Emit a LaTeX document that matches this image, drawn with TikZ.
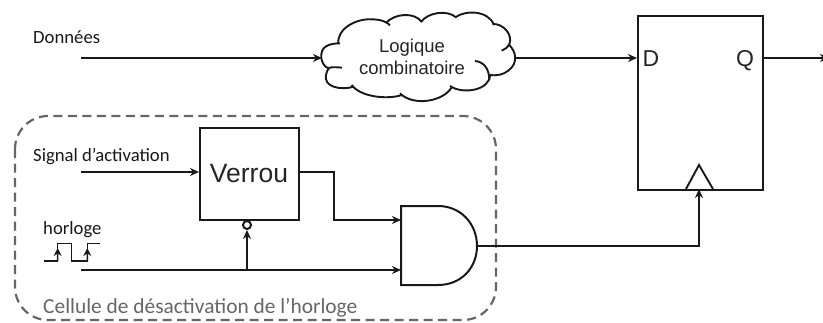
\documentclass[tikz,border=0pt]{standalone}
\usepackage{fontspec}
\setmainfont{Carlito}
\newfontfamily\arialf{Liberation Sans}
\usetikzlibrary{arrows.meta,calc}
\tikzset{
  wire/.style={line width=1.9pt,draw=black!90},
  awire/.style={wire,-{Stealth[length=9pt,width=8pt]}},
  boxst/.style={draw=black!90,line width=2pt,fill=white,inner sep=0pt,anchor=north west},
  lab/.style={inner sep=0pt,text=black!90},
  alab/.style={inner sep=0pt,text=black!85,font=\arialf,align=center},
  dashbox/.style={draw=black!60,line width=2.2pt,dash pattern=on 9pt off 5.5pt,rounded corners=33pt},
  coordst/.style={inner sep=0pt,minimum size=0pt}
}
\begin{document}
\begin{tikzpicture}[x=1pt,y=-1pt]
\useasboundingbox (0,0) rectangle (823,322);
% flip-flop
\node[boxst,minimum width=125pt,minimum height=174pt] (ff) at (637,15) {};
\coordinate (ffD) at (637,58);
\coordinate (ffQ) at (762,58);
\coordinate (ffCk) at (699,189);
\coordinate (tL) at (686,189);
\coordinate (tR) at (713,189);
\coordinate (tT) at (699,165);
\draw[wire] (tL) -- (tT) -- (tR);
\node[alab,anchor=base,font=\arialf\fontsize{23}{23}\selectfont] (dlab) at (651,66) {D};
\node[alab,anchor=base,font=\arialf\fontsize{23}{23}\selectfont] (qlab) at (745,66) {Q};
\coordinate (outEnd) at (829,58);
% cloud
\begin{scope}[shift={(300,0)},x=0.3333pt,y=-0.3333pt,line width=1.9pt,draw=black!90]
\fill[white] (65,172) -- (120,100) -- (300,50) -- (530,40) -- (640,120) -- (640,200) -- (550,270) -- (380,310) -- (170,270) -- (85,240) -- cycle;
\draw (85,205) .. controls (60,195) and (55,150) .. (80,138) .. controls (90,132) and (105,130) .. (120,130);
\draw (115,132) .. controls (110,85) and (170,55) .. (215,58) .. controls (240,58) and (262,65) .. (270,76);
\draw (258,70) .. controls (280,40) and (345,35) .. (365,66);
\draw (363,66) .. controls (385,35) and (445,30) .. (468,52);
\draw (466,52) .. controls (495,30) and (565,30) .. (582,75);
\draw (578,72) .. controls (610,70) and (640,105) .. (628,133) .. controls (622,143) and (615,148) .. (605,152);
\draw (625,132) .. controls (650,155) and (655,190) .. (625,212) .. controls (610,224) and (590,228) .. (568,225);
\draw (525,183) .. controls (550,185) and (568,205) .. (568,240);
\draw (570,225) .. controls (570,270) and (490,285) .. (450,258);
\draw (455,262) .. controls (430,305) and (340,320) .. (300,280);
\draw (306,285) .. controls (260,300) and (180,290) .. (155,255);
\draw (162,260) .. controls (120,272) and (70,260) .. (78,225) .. controls (80,215) and (82,210) .. (87,205);
\draw (85,204) .. controls (100,200) and (112,202) .. (126,203);
\end{scope}
\node[alab,font=\arialf\fontsize{18.5}{22}\selectfont] (cloud) at (412,57) {Logique\\combinatoire};
\coordinate (cloudIn) at (322,58);
\coordinate (cloudOut) at (516,58);
% dashed frame
\node[coordst] (fa) at (15,116) {};
\node[coordst] (fb) at (496,320) {};
\draw[dashbox] (fa) rectangle (fb);
% latch
\node[boxst,minimum width=99pt,minimum height=92pt] (latch) at (199,127) {};
\node[alab,anchor=base,font=\arialf\fontsize{26.5}{26.5}\selectfont] (vlab) at (249,182) {Verrou};
\node[draw=black!90,line width=2pt,circle,fill=white,minimum size=8pt,inner sep=0pt] (bub) at (247,225) {};
% AND
\coordinate (gA) at (401,206);
\coordinate (gOut) at (477,246);
\coordinate (gI1) at (401,220);
\coordinate (gI2) at (401,270);
\draw[wire,line width=2pt,fill=white] (401,206) -- (438,206) .. controls (461,206) and (477,224) .. (477,246) .. controls (477,268) and (461,285) .. (438,285) -- (401,285) -- cycle;
% inputs
\coordinate (dIn) at (81,58);
\coordinate (sIn) at (81,172);
\coordinate (ckIn) at (81,270);
\coordinate (latchIn) at (199,172);
\coordinate (latchOut) at (298,172);
\coordinate (tap) at (247,270);
\coordinate (elb) at (699,246);
% wires
\draw[awire] (dIn) -- (cloudIn);
\draw[awire] (cloudOut) -- (ffD);
\draw[awire] (ffQ) -- (outEnd);
\draw[awire] (sIn) -- (latchIn);
\draw[awire] (latchOut) -- (334,172) -- (334,220) -- (gI1);
\draw[awire] (ckIn) -- (gI2);
\draw[awire] (tap) -- (bub);
\draw[awire] (gOut) -- (elb) -- (ffCk);
% clock symbol
\coordinate (c0) at (44,261);
\coordinate (c1) at (57.7,261);
\coordinate (c2) at (57.7,243.7);
\coordinate (c3) at (71.7,243.7);
\coordinate (c4) at (71.7,261);
\coordinate (c5) at (87.3,261);
\coordinate (c6) at (87.3,243.7);
\coordinate (c7) at (100,243.7);
\draw[wire,line width=1.5pt] (c0) -- (c1) -- (c2) -- (c3) -- (c4) -- (c5) -- (c6) -- (c7);
\draw[wire,line width=1.5pt,-{Stealth[length=8pt,width=8pt]}] (c1) -- ($(c1)!0.75!(c2)$);
\draw[wire,line width=1.5pt,-{Stealth[length=8pt,width=8pt]}] (c5) -- ($(c5)!0.75!(c6)$);
% labels
\node[lab,anchor=west,font=\fontsize{18.7}{18.7}\selectfont] (l1) at (33,37) {Données};
\node[lab,anchor=west,font=\fontsize{18.7}{18.7}\selectfont] (l2) at (33,157) {Signal d’activation};
\node[lab,anchor=west,font=\fontsize{18.7}{18.7}\selectfont] (l3) at (43,230) {horloge};
\node[lab,anchor=west,text=black!60,font=\fontsize{21.4}{21.4}\selectfont] (l4) at (43,308) {Cellule de désactivation de l’horloge};
\end{tikzpicture}
\end{document}
